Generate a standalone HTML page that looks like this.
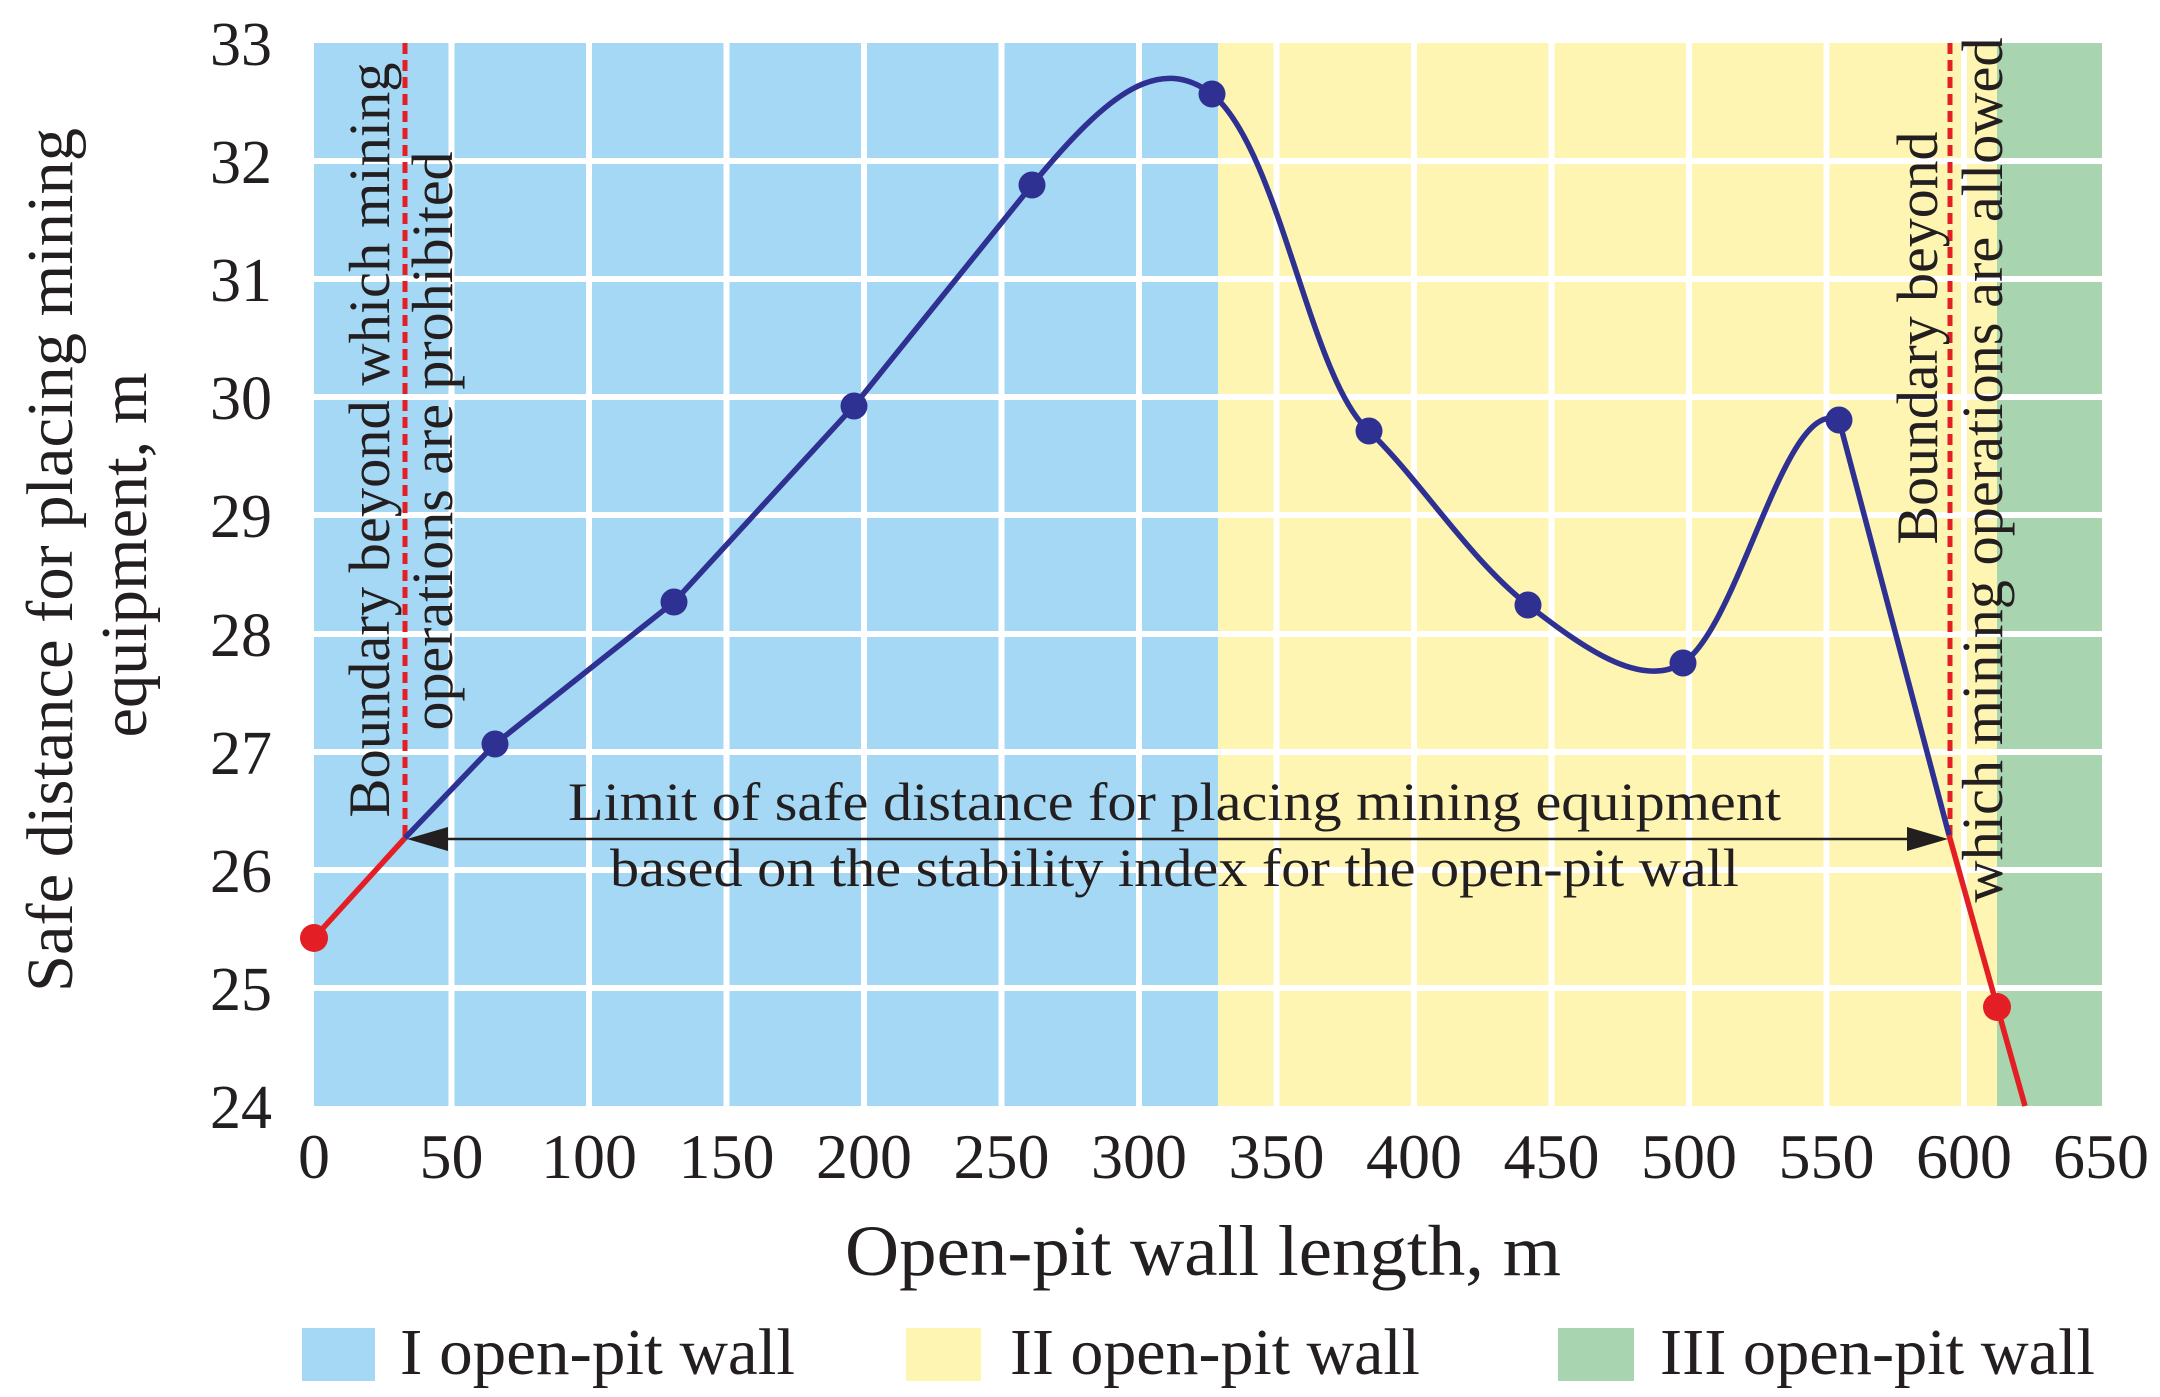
<!DOCTYPE html>
<html><head><meta charset="utf-8"><style>html,body{margin:0;padding:0;background:#fff}svg{display:block}</style></head>
<body>
<svg width="2160" height="1397" viewBox="0 0 2160 1397" xmlns="http://www.w3.org/2000/svg" font-family="'Liberation Serif', serif" fill="#231f20">
<rect x="314" y="43" width="904" height="1063" fill="#a4d8f4"/>
<rect x="1218" y="43" width="779" height="1063" fill="#fdf5b1"/>
<rect x="1997" y="43" width="105" height="1063" fill="#a8d4b0"/>
<g stroke="#fff" stroke-width="6">
<line x1="314" x2="2102" y1="161" y2="161"/><line x1="314" x2="2102" y1="279" y2="279"/>
<line x1="314" x2="2102" y1="397" y2="397"/><line x1="314" x2="2102" y1="515" y2="515"/>
<line x1="314" x2="2102" y1="634" y2="634"/><line x1="314" x2="2102" y1="752" y2="752"/>
<line x1="314" x2="2102" y1="870" y2="870"/><line x1="314" x2="2102" y1="988" y2="988"/>
<line y1="43" y2="1106" x1="451.5" x2="451.5"/><line y1="43" y2="1106" x1="589" x2="589"/>
<line y1="43" y2="1106" x1="726.5" x2="726.5"/><line y1="43" y2="1106" x1="864" x2="864"/>
<line y1="43" y2="1106" x1="1001.5" x2="1001.5"/><line y1="43" y2="1106" x1="1139" x2="1139"/>
<line y1="43" y2="1106" x1="1276.5" x2="1276.5"/><line y1="43" y2="1106" x1="1414" x2="1414"/>
<line y1="43" y2="1106" x1="1551.5" x2="1551.5"/><line y1="43" y2="1106" x1="1689" x2="1689"/>
<line y1="43" y2="1106" x1="1826.5" x2="1826.5"/><line y1="43" y2="1106" x1="1964" x2="1964"/>
</g>
<g stroke="#e31e25" stroke-width="5" stroke-dasharray="11,6">
<line x1="405" x2="405" y1="43" y2="836"/><line x1="1950" x2="1950" y1="43" y2="836"/>
</g>
<line x1="425" x2="1930" y1="839" y2="839" stroke="#231f20" stroke-width="2.5"/>
<polygon points="407,839 448,827 448,851" fill="#231f20"/>
<polygon points="1948,839 1907,827 1907,851" fill="#231f20"/>
<path d="M314,938 L405,838" stroke="#e31e25" stroke-width="5.5" fill="none"/>
<path d="M1949,835 L2025,1106" stroke="#e31e25" stroke-width="5.5" fill="none"/>
<path d="M405,838 L495,744 L674,602 L854,406 L1032,185 C1110,90 1160,55 1212,94 C1280,150 1310,380 1369,431 C1420,480 1470,560 1528,605 C1580,645 1640,690 1683,663 C1740,625 1785,395 1839,420 L1949,835" stroke="#2e3192" stroke-width="5.5" fill="none"/>
<g fill="#2e3192">
<circle cx="495" cy="744" r="13.5"/><circle cx="674" cy="602" r="13.5"/><circle cx="854" cy="406" r="13.5"/>
<circle cx="1032" cy="185" r="13.5"/><circle cx="1212" cy="94" r="13.5"/><circle cx="1369" cy="431" r="13.5"/>
<circle cx="1528" cy="605" r="13.5"/><circle cx="1683" cy="663" r="13.5"/><circle cx="1839" cy="420" r="13.5"/>
</g>
<g fill="#e31e25"><circle cx="314" cy="938" r="14"/><circle cx="1997" cy="1007" r="14"/></g>
<text x="568" y="820" font-size="54" textLength="1213" lengthAdjust="spacingAndGlyphs">Limit of safe distance for placing mining equipment</text>
<text x="610" y="886" font-size="54" textLength="1129" lengthAdjust="spacingAndGlyphs">based on the stability index for the open-pit wall</text>
<g font-size="58">
<text transform="translate(389,440) rotate(-90)" text-anchor="middle" textLength="755" lengthAdjust="spacingAndGlyphs">Boundary beyond which mining</text>
<text transform="translate(452,441) rotate(-90)" text-anchor="middle" textLength="579" lengthAdjust="spacingAndGlyphs">operations are prohibited</text>
<text transform="translate(1937,338) rotate(-90)" text-anchor="middle" textLength="413" lengthAdjust="spacingAndGlyphs">Boundary beyond</text>
<text transform="translate(2002,470) rotate(-90)" text-anchor="middle" textLength="865" lengthAdjust="spacingAndGlyphs">which mining operations are allowed</text>
</g>
<g font-size="62" text-anchor="end">
<text x="272" y="65">33</text><text x="272" y="183">32</text><text x="272" y="301">31</text>
<text x="272" y="419">30</text><text x="272" y="537">29</text><text x="272" y="656">28</text>
<text x="272" y="774">27</text><text x="272" y="892">26</text><text x="272" y="1010">25</text>
<text x="272" y="1128">24</text>
</g>
<g font-size="64" text-anchor="middle">
<text x="314" y="1178">0</text><text x="451.5" y="1178">50</text><text x="589" y="1178">100</text>
<text x="726.5" y="1178">150</text><text x="864" y="1178">200</text><text x="1001.5" y="1178">250</text>
<text x="1139" y="1178">300</text><text x="1276.5" y="1178">350</text><text x="1414" y="1178">400</text>
<text x="1551.5" y="1178">450</text><text x="1689" y="1178">500</text><text x="1826.5" y="1178">550</text>
<text x="1964" y="1178">600</text><text x="2101" y="1178">650</text>
</g>
<text x="845" y="1275" font-size="72" textLength="716" lengthAdjust="spacingAndGlyphs">Open-pit wall length, m</text>
<g font-size="66">
<text transform="translate(72,560) rotate(-90)" text-anchor="middle" textLength="864" lengthAdjust="spacingAndGlyphs">Safe distance for placing mining</text>
<text transform="translate(146,555) rotate(-90)" text-anchor="middle" textLength="365" lengthAdjust="spacingAndGlyphs">equipment, m</text>
</g>
<rect x="302" y="1328" width="73" height="53" fill="#a4d8f4"/>
<rect x="906" y="1328" width="75" height="53" fill="#fdf5b1"/>
<rect x="1558" y="1328" width="76" height="53" fill="#a8d4b0"/>
<g font-size="66">
<text x="400" y="1374" textLength="395" lengthAdjust="spacingAndGlyphs">I open-pit wall</text>
<text x="1010" y="1374" textLength="410" lengthAdjust="spacingAndGlyphs">II open-pit wall</text>
<text x="1660" y="1374" textLength="435" lengthAdjust="spacingAndGlyphs">III open-pit wall</text>
</g>
</svg>
</body></html>
